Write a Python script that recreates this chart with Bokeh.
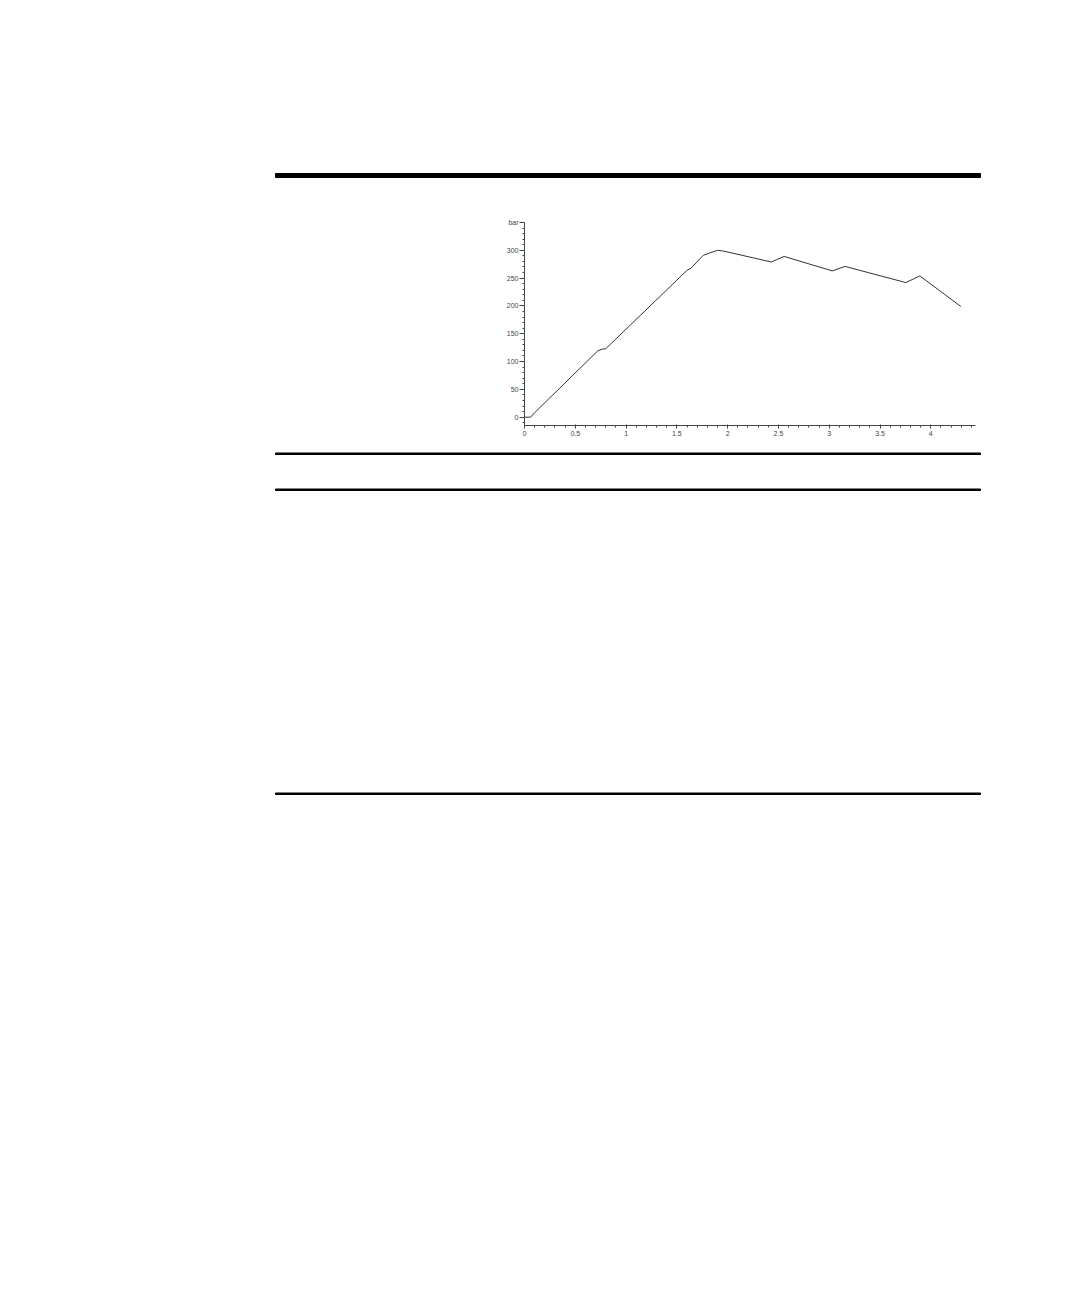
from bokeh.plotting import figure
from bokeh.models import Range1d, SingleIntervalTicker, CustomJSTickFormatter, ColumnDataSource
from bokeh.embed import file_html
from bokeh.resources import INLINE

# ---- data ----
depth = [0, 0.06, 0.10, 0.72, 0.76, 0.80, 1.60, 1.64, 1.76, 1.82, 1.90, 1.95,
         2.43, 2.555, 3.03, 3.156, 3.754, 3.892, 4.296]
pressure = [0, 0, 8, 119, 122, 123, 264, 268, 291, 295, 300, 299,
            279, 289, 263, 271, 242, 254, 199]
y_unit = "bar"
y_unit_tick = 350

FONT = "Liberation Sans"
W = 1064

def blank(h):
    f = figure(width=W, height=h, output_backend="svg", toolbar_location=None,
               x_range=Range1d(0, W), y_range=Range1d(h, 0),
               x_axis_location=None, y_axis_location=None,
               min_border=0, min_border_left=0, min_border_right=0,
               min_border_top=0, min_border_bottom=0)
    f.outline_line_color = None
    f.grid.visible = False
    return f

# top rule area (page y 0..190)
top = blank(190)
top.quad(left=[275], right=[980], top=[173], bottom=[177], color="black")

# chart (page y 190..445)
p = figure(width=W, height=255, output_backend="svg", toolbar_location=None,
           x_range=Range1d(0, 4.44), y_range=Range1d(-15, 350),
           min_border_left=524, min_border_right=89,
           min_border_top=32, min_border_bottom=20)
p.outline_line_color = None
p.grid.visible = False
p.background_fill_color = "white"
p.line(x="x", y="y", source=ColumnDataSource(dict(x=depth, y=pressure)),
       line_color="#333333", line_width=1)

p.xaxis.ticker = SingleIntervalTicker(interval=0.5, num_minor_ticks=5)
p.yaxis.ticker = SingleIntervalTicker(interval=50, num_minor_ticks=5)
p.xaxis.formatter = CustomJSTickFormatter(code="return (Math.round(tick*10)/10).toString();")
p.yaxis.formatter = CustomJSTickFormatter(
    args=dict(unit=y_unit, ut=y_unit_tick),
    code="var t = Math.round(tick); return (t == ut) ? unit : t.toString();")
for ax in (p.xaxis, p.yaxis):
    ax.axis_line_color = "#444444"
    ax.major_tick_line_color = "#444444"
    ax.minor_tick_line_color = "#444444"
    ax.major_label_text_font = FONT
    ax.major_label_text_font_size = "7px"
    ax.major_label_text_color = "#444444"
p.xaxis.major_tick_in = 1
p.xaxis.major_tick_out = 3
p.xaxis.minor_tick_in = 0
p.xaxis.minor_tick_out = 2
p.xaxis.major_label_standoff = 2
p.yaxis.major_tick_in = 0
p.yaxis.major_tick_out = 5
p.yaxis.minor_tick_in = 0
p.yaxis.minor_tick_out = 2
p.yaxis.major_label_standoff = 1
p.yaxis.major_label_orientation = "horizontal"

# lower rules (page y 445..797)
bot = blank(352)
bot.quad(left=[275, 275, 275], right=[980, 980, 980], top=[7.5, 43.5, 347.5],
         bottom=[9, 45, 349], color="black")

open("out.html", "w").write(file_html([top, p, bot], INLINE))
